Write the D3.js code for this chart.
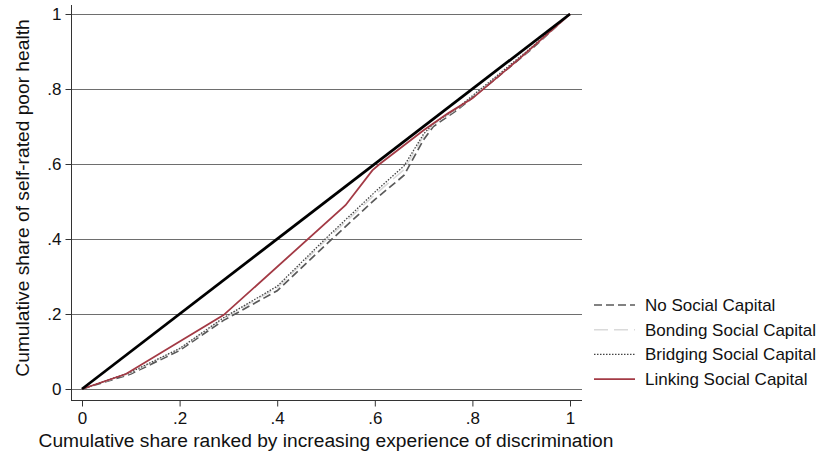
<!DOCTYPE html>
<html>
<head>
<meta charset="utf-8">
<script src="https://cdn.jsdelivr.net/npm/d3@7"></script>
<style>
  html, body { margin: 0; padding: 0; background: #fff; }
  svg { display: block; font-family: "Liberation Sans", Arial, sans-serif; }
</style>
</head>
<body>
<svg id="chart" width="821" height="457"></svg>
<script>
// Concentration curves: cumulative share of population (x) vs cumulative share of poor health (y)
const xTicks = [0, 0.2, 0.4, 0.6, 0.8, 1];
const yTicks = [0, 0.2, 0.4, 0.6, 0.8, 1];
const tickLabels = ["0", ".2", ".4", ".6", ".8", "1"];

const equality = [[0, 0], [1, 1]];

const noSocial = [[0, 0], [0.1, 0.04], [0.2, 0.103], [0.29, 0.183], [0.4, 0.262], [0.5, 0.385],
  [0.6, 0.505], [0.66, 0.57], [0.7, 0.665], [0.72, 0.7], [0.77, 0.745], [0.85, 0.83], [0.92, 0.905], [1, 1]];
const bonding = [[0, 0], [0.1, 0.043], [0.2, 0.107], [0.29, 0.188], [0.4, 0.27], [0.5, 0.397],
  [0.6, 0.518], [0.66, 0.585], [0.7, 0.675], [0.72, 0.705], [0.77, 0.748], [0.85, 0.833], [0.92, 0.907], [1, 1]];
const bridging = [[0, 0], [0.1, 0.045], [0.2, 0.108], [0.29, 0.19], [0.4, 0.274], [0.5, 0.402],
  [0.6, 0.525], [0.66, 0.595], [0.7, 0.68], [0.72, 0.708], [0.77, 0.75], [0.85, 0.835], [0.92, 0.91], [1, 1]];
const linking = [[0, 0], [0.09, 0.04], [0.29, 0.197], [0.54, 0.49], [0.595, 0.583], [0.61, 0.6],
  [0.7, 0.69], [0.75, 0.735], [0.8, 0.775], [0.9, 0.885], [1, 1]];

const seriesNames = ["No Social Capital", "Bonding Social Capital", "Bridging Social Capital", "Linking Social Capital"];
const seriesData = [noSocial, bonding, bridging, linking];
const seriesStyle = [
  { color: "#5a5a5a", width: 1.7, dash: "8,4" },
  { color: "#dadada", width: 1.5, dash: "14,6" },
  { color: "#444", width: 1.3, dash: "1.5,1.5" },
  { color: "#a33a45", width: 1.8, dash: null }
];

const svg = d3.select("#chart");
const x = d3.scaleLinear().domain([0, 1]).range([82, 570]);
const y = d3.scaleLinear().domain([0, 1]).range([389, 14]);
const axisLeftX = 71, axisBottomY = 400, plotRight = 582;
const font = "Liberation Sans, Arial, sans-serif";

// horizontal grid lines
svg.append("g").selectAll("line").data(yTicks).join("line")
  .attr("x1", axisLeftX).attr("x2", plotRight)
  .attr("y1", d => Math.round(y(d)) + 0.5).attr("y2", d => Math.round(y(d)) + 0.5)
  .attr("stroke", "#6e6e6e").attr("stroke-width", 1);

// y axis
const yAxis = d3.axisLeft(y).tickValues(yTicks).tickSize(6).tickPadding(4)
  .tickFormat((d, i) => tickLabels[i]);
const gy = svg.append("g").attr("transform", `translate(${axisLeftX + 0.5},0)`).call(yAxis);
gy.select(".domain").attr("d", `M0,5V${axisBottomY}`).attr("stroke", "#333");
gy.selectAll(".tick line").attr("stroke", "#333");
gy.selectAll(".tick text").attr("font-size", 17).attr("fill", "#111").attr("font-family", font);

// x axis
const xAxis = d3.axisBottom(x).tickValues(xTicks).tickSize(6).tickPadding(5)
  .tickFormat((d, i) => tickLabels[i]);
const gx = svg.append("g").attr("transform", `translate(0,${axisBottomY + 0.5})`).call(xAxis);
gx.select(".domain").attr("d", `M${axisLeftX},0H${plotRight}`).attr("stroke", "#333");
gx.selectAll(".tick line").attr("stroke", "#333");
gx.selectAll(".tick text").attr("font-size", 17).attr("fill", "#111").attr("font-family", font);

// axis titles
svg.append("text").attr("x", 326).attr("y", 447).attr("text-anchor", "middle")
  .attr("font-size", 19.2).attr("fill", "#111")
  .text("Cumulative share ranked by increasing experience of discrimination");
svg.append("text").attr("transform", "translate(29,198) rotate(-90)").attr("text-anchor", "middle")
  .attr("font-size", 19.2).attr("fill", "#111")
  .text("Cumulative share of self-rated poor health");

const line = d3.line().x(d => x(d[0])).y(d => y(d[1]));

// curves
seriesData.forEach((data, i) => {
  const s = seriesStyle[i];
  svg.append("path").datum(data).attr("d", line)
    .attr("fill", "none").attr("stroke", s.color).attr("stroke-width", s.width)
    .attr("stroke-dasharray", s.dash);
});

// line of equality
svg.append("path").datum(equality).attr("d", line)
  .attr("fill", "none").attr("stroke", "#000").attr("stroke-width", 2.8);

// legend
const legend = svg.append("g").attr("transform", "translate(594,305)");
seriesNames.forEach((name, i) => {
  const s = seriesStyle[i];
  const g = legend.append("g").attr("transform", `translate(0,${i * 24.7})`);
  g.append("line").attr("x1", 0).attr("x2", 41).attr("y1", 0).attr("y2", 0)
    .attr("stroke", s.color).attr("stroke-width", s.width).attr("stroke-dasharray", s.dash);
  g.append("text").attr("x", 51).attr("y", 6).attr("font-size", 17).attr("fill", "#111").text(name);
});
</script>
</body>
</html>
